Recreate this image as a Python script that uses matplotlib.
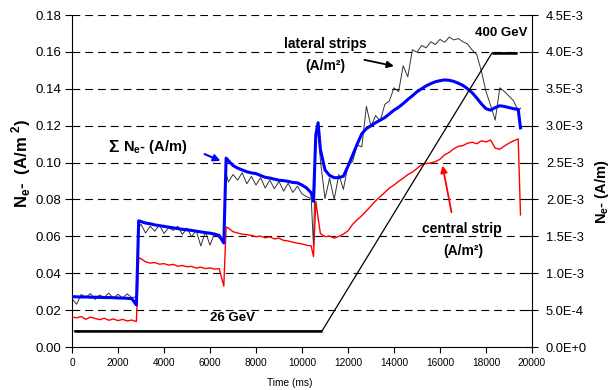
import numpy as np
import matplotlib
matplotlib.use("Agg")
import matplotlib.pyplot as plt
from matplotlib.ticker import FuncFormatter, MultipleLocator

plt.rcParams['font.family'] = ['Liberation Sans', 'DejaVu Sans']
plt.rcParams['mathtext.fontset'] = 'custom'
plt.rcParams['mathtext.rm'] = 'Liberation Sans'
plt.rcParams['mathtext.bf'] = 'Liberation Sans:bold'

# sampling times (ms), shared by the three measured traces
time_ms = np.r_[np.arange(0, 2801, 200), 2900,
                np.arange(3000, 6601, 200), 6700,
                np.arange(6800, 10401, 200), 10500, 10600, 10700,
                np.arange(10800, 19401, 200), 19500]

# lateral strips (A/m^2), left axis
lateral = [
    0.0262, 0.0232, 0.0285, 0.0268, 0.0290, 0.0258, 0.0282, 0.0270, 0.0292, 0.0264,
    0.0286, 0.0266, 0.0288, 0.0268, 0.0272,
    0.0650,
    0.0665, 0.0618, 0.0655, 0.0628, 0.0662, 0.0615, 0.0648, 0.0632, 0.0655, 0.0610,
    0.0645, 0.0598, 0.0632, 0.0548, 0.0625, 0.0552, 0.0618, 0.0590, 0.0580,
    0.0940,
    0.0895, 0.0935, 0.0905, 0.0945, 0.0885, 0.0925, 0.0878, 0.0918, 0.0862, 0.0905,
    0.0858, 0.0898, 0.0845, 0.0888, 0.0838, 0.0872, 0.0830, 0.0815, 0.0805,
    0.0545, 0.1120, 0.1180,
    0.1010, 0.0805, 0.0915, 0.0800, 0.0935, 0.0855,
    0.0985, 0.1005, 0.1095, 0.1085, 0.1305,
    0.1195, 0.1255, 0.1225, 0.1315, 0.1335,
    0.1405, 0.1385, 0.1525, 0.1465, 0.1612,
    0.1598, 0.1635, 0.1622, 0.1655, 0.1640,
    0.1668, 0.1652, 0.1680, 0.1665, 0.1672,
    0.1655, 0.1642, 0.1610, 0.1585, 0.1495,
    0.1385, 0.1310, 0.1230, 0.1405, 0.1385,
    0.1360, 0.1335, 0.1280,
    0.1295,
]

# central strip (A/m^2), left axis
central = [
    0.0163, 0.0158, 0.0165, 0.0150, 0.0162, 0.0155, 0.0148, 0.0156, 0.0145, 0.0152,
    0.0143, 0.0150, 0.0141, 0.0146, 0.0138,
    0.0485,
    0.0478, 0.0462, 0.0455, 0.0458, 0.0449, 0.0452, 0.0444, 0.0448, 0.0438, 0.0442,
    0.0435, 0.0437, 0.0428, 0.0433, 0.0425, 0.0429, 0.0422, 0.0425, 0.0330,
    0.0650,
    0.0645, 0.0625, 0.0618, 0.0612, 0.0609, 0.0605, 0.0598, 0.0601, 0.0592, 0.0597,
    0.0586, 0.0590, 0.0578, 0.0575, 0.0568, 0.0563, 0.0559, 0.0552, 0.0548,
    0.0490, 0.0790, 0.0700,
    0.0615, 0.0598, 0.0602, 0.0590, 0.0600, 0.0612,
    0.0630, 0.0665, 0.0690, 0.0712, 0.0738,
    0.0765, 0.0792, 0.0815, 0.0838, 0.0862,
    0.0878, 0.0898, 0.0915, 0.0935, 0.0948,
    0.0968, 0.0988, 0.0995, 0.0998, 0.1005,
    0.1018, 0.1042, 0.1055, 0.1075, 0.1088,
    0.1092, 0.1105, 0.1110, 0.1102, 0.1118,
    0.1112, 0.1122, 0.1078, 0.1072, 0.1090,
    0.1105, 0.1118, 0.1128,
    0.0716,
]

# sum Ne- (1e-3 A/m), right axis
sum_ne = [
    0.683, 0.680, 0.678, 0.678, 0.675, 0.675, 0.673, 0.670, 0.670, 0.668,
    0.665, 0.663, 0.660, 0.655, 0.570,
    1.710,
    1.700, 1.680, 1.670, 1.655, 1.645, 1.635, 1.625, 1.615, 1.605, 1.595,
    1.588, 1.580, 1.570, 1.560, 1.550, 1.543, 1.530, 1.512, 1.410,
    2.560,
    2.525, 2.460, 2.425, 2.400, 2.375, 2.360, 2.350, 2.325, 2.300, 2.290,
    2.275, 2.260, 2.255, 2.245, 2.230, 2.225, 2.195, 2.155, 2.090,
    1.975, 2.875, 3.040,
    2.675, 2.400, 2.325, 2.295, 2.295, 2.315,
    2.450, 2.600, 2.750, 2.890, 2.960,
    3.000, 3.040, 3.075, 3.110, 3.160,
    3.210, 3.250, 3.300, 3.355, 3.405,
    3.460, 3.500, 3.540, 3.570, 3.595,
    3.610, 3.620, 3.615, 3.600, 3.575,
    3.545, 3.500, 3.445, 3.375, 3.295,
    3.230, 3.210, 3.245, 3.270, 3.260,
    3.245, 3.230, 3.220,
    2.970,
]

# beam energy ramp
energy_ms = [100, 10870, 18260, 19350]
energy_gev = [26, 26, 400, 400]


def sci_fmt(v, pos):
    if abs(v) < 1e-12:
        return "0.0E+0"
    exp = int(np.floor(np.log10(abs(v)) + 1e-9))
    return f"{v / 10**exp:.1f}E{exp:+d}"


fig = plt.figure(figsize=(6.16, 3.9), dpi=100)
ax = fig.add_axes([72/616, 43/390, 460/616, 332/390])
ax2 = ax.twinx()
ax3 = ax.twinx()

ax.set_xlim(0, 20000)
ax.set_ylim(0, 0.18)
ax2.set_ylim(0, 4.5e-3)
ax3.set_ylim(4.4, 451.1)
ax3.axis('off')

for y in np.arange(0.02, 0.181, 0.02):
    ax.axhline(y, color='black', lw=0.8, ls=(0, (7, 4.5)), zorder=0)

ax.plot(time_ms, lateral, color='#333333', lw=0.7, zorder=2)
ax.plot(time_ms, central, color='#ff0000', lw=1.0, zorder=3)
ax2.plot(time_ms, np.array(sum_ne) * 1e-3, color='#0000ff', lw=2.2, zorder=4)
ax3.plot(energy_ms, energy_gev, color='black', lw=0.9)
ax3.plot(energy_ms[:2], energy_gev[:2], color='black', lw=1.8, solid_capstyle='butt')
ax3.plot(energy_ms[2:], energy_gev[2:], color='black', lw=1.8, solid_capstyle='butt')

for a in (ax, ax2):
    a.spines['top'].set_visible(False)
ax.spines['right'].set_visible(False)
ax2.spines['left'].set_visible(False)
ax2.spines['bottom'].set_visible(False)

ax.xaxis.set_major_locator(MultipleLocator(2000))
ax.yaxis.set_major_locator(MultipleLocator(0.02))
ax.yaxis.set_major_formatter(FuncFormatter(lambda v, p: f"{v:.2f}"))
ax2.yaxis.set_major_locator(MultipleLocator(5e-4))
ax2.yaxis.set_major_formatter(FuncFormatter(sci_fmt))

ax.tick_params(axis='x', direction='out', length=4, width=0.8, labelsize=7.3, pad=4)
ax.tick_params(axis='y', direction='out', length=5, width=0.8, labelsize=9.5, pad=3)
ax2.tick_params(axis='y', direction='inout', length=8, width=0.8, labelsize=9.3, pad=6)

ax.set_xlabel("Time (ms)", fontsize=7.3)
ax.xaxis.set_label_coords(0.474, -0.093)
ax.set_ylabel(r"N$_\mathbf{e}$-  (A/m $^\mathbf{2}$)", fontsize=12, fontweight='bold')
ax.yaxis.set_label_coords(-0.085, 0.554)
ax2.set_ylabel(r"N$_\mathbf{e}$- (A/m)", fontsize=10.5, fontweight='bold')
ax2.yaxis.set_label_coords(1.133, 0.467)

# annotations
ax.text(11000, 0.1643, "lateral strips", fontsize=10, fontweight='bold', ha='center', va='center')
ax.text(11000, 0.1524, "(A/m²)", fontsize=10, fontweight='bold', ha='center', va='center')
ax.annotate("", xy=(14116, 0.152), xytext=(12594, 0.156),
            arrowprops=dict(arrowstyle='-|>', color='black', lw=1.3, mutation_scale=10))

ax.text(16957, 0.064, "central strip", fontsize=10, fontweight='bold', ha='center', va='center')
ax.text(17000, 0.052, "(A/m²)", fontsize=10, fontweight='bold', ha='center', va='center')
ax.annotate("", xy=(16087, 0.0998), xytext=(16522, 0.0716),
            arrowprops=dict(arrowstyle='-|>', color='red', lw=1.3, mutation_scale=10))

ax.text(1570, 0.1084, "Σ", fontsize=12.5, fontweight='bold', ha='left', va='center')
ax.text(2200, 0.1084, r"N$_\mathbf{e}$- (A/m)", fontsize=10.5, fontweight='bold', ha='left', va='center')
ax.annotate("", xy=(6565, 0.1003), xytext=(5652, 0.1052),
            arrowprops=dict(arrowstyle='-|>', color='#0000ff', lw=1.5, mutation_scale=10))

ax.text(18652, 0.1702, "400 GeV", fontsize=9.5, fontweight='bold', ha='center', va='center')
ax.text(7000, 0.0157, "26 GeV", fontsize=9.5, fontweight='bold', ha='center', va='center')

fig.savefig("out.png", dpi=100)
